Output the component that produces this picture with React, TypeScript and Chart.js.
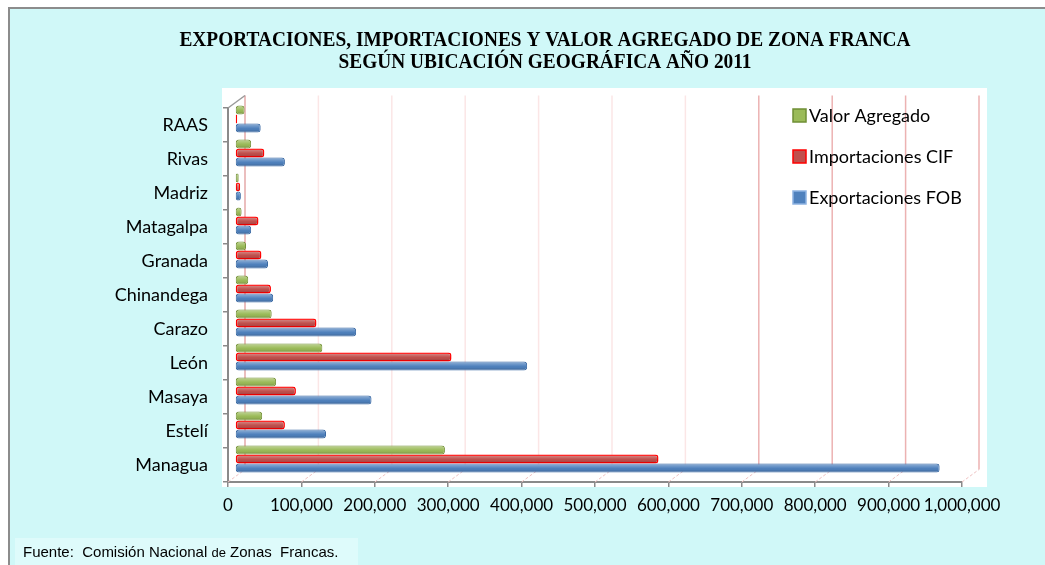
import React, { useEffect, useRef } from 'react';
import { Chart, registerables } from 'chart.js';

Chart.register(...registerables);

// ---------- data ----------
const TITLE_LINES = [
  'EXPORTACIONES, IMPORTACIONES Y VALOR AGREGADO DE ZONA FRANCA',
  'SEGÚN UBICACIÓN GEOGRÁFICA AÑO 2011',
];

const CATEGORIES = [
  'RAAS',
  'Rivas',
  'Madriz',
  'Matagalpa',
  'Granada',
  'Chinandega',
  'Carazo',
  'León',
  'Masaya',
  'Estelí',
  'Managua',
];

const SERIES_LABELS = ['Valor Agregado', 'Importaciones CIF', 'Exportaciones FOB'];

const VALOR_AGREGADO = [13000, 22000, 5000, 9000, 15000, 18000, 50000, 119000, 56000, 37000, 286000];
const IMPORTACIONES_CIF = [3000, 40000, 7000, 32000, 36000, 49000, 111000, 295000, 83000, 68000, 577000];
const EXPORTACIONES_FOB = [35000, 68000, 8000, 22000, 45000, 52000, 165000, 398000, 186000, 124000, 960000];

const X_TICKS = [0, 100000, 200000, 300000, 400000, 500000, 600000, 700000, 800000, 900000, 1000000];

const SOURCE_PARTS: [string, number][] = [
  ['Fuente:  Comisión Nacional ', 15],
  ['de', 13],
  [' Zonas  Francas.', 15],
];

// ---------- styles ----------
const FILLS = ['#9BBB59', '#C0504D', '#4F81BD'];
const BORDERS = ['#76923C', '#FF0000', '#3A69A3'];
const LEGEND_BORDERS = ['#6F8F35', '#FF0000', '#8DB3E2'];
const BG_CYAN = 'rgb(208,248,248)';
const FOOT_BOX = 'rgb(222,251,251)';
const LABEL_FONT = 'Lato, "Open Sans", sans-serif';
const DEPTH_DX = 17;
const DEPTH_DY = -12.5;
const BAR_DX = 7;
const BAR_DY = -6;

const decorPlugin = {
  id: 'decor3d',
  beforeDraw(chart: any) {
    const { ctx, chartArea: a } = chart;
    const W = chart.width;
    const H = chart.height;
    ctx.save();
    ctx.fillStyle = '#ffffff';
    ctx.fillRect(0, 0, W, H);
    ctx.fillStyle = BG_CYAN;
    ctx.fillRect(9, 8, W - 9, H - 8);
    ctx.strokeStyle = '#8C8C8C';
    ctx.lineWidth = 2;
    ctx.beginPath();
    ctx.moveTo(9, H);
    ctx.lineTo(9, 8);
    ctx.lineTo(W, 8);
    ctx.stroke();
    // plot area
    ctx.fillStyle = '#ffffff';
    ctx.fillRect(a.left - 6, a.top - 20, a.right - a.left + 31, a.bottom - a.top + 25);
    // footer box
    ctx.fillStyle = FOOT_BOX;
    ctx.fillRect(15, 538, 343, H - 538);
    // title (Times-like, slightly condensed)
    ctx.fillStyle = '#000';
    ctx.font = 'bold 22px "Liberation Serif", "Times New Roman", serif';
    ctx.textAlign = 'center';
    ctx.textBaseline = 'alphabetic';
    TITLE_LINES.forEach((line, i) => {
      ctx.save();
      ctx.translate(545, 46 + i * 22);
      ctx.scale(0.88, 1);
      ctx.fillText(line, 0, 0);
      ctx.restore();
    });
    ctx.restore();
  },
  beforeDatasetsDraw(chart: any) {
    const { ctx, chartArea: a, scales } = chart;
    const xs = scales.x;
    ctx.save();
    X_TICKS.forEach((v) => {
      const px = xs.getPixelForValue(v);
      ctx.setLineDash([]);
      ctx.lineWidth = 1.5;
      ctx.strokeStyle = v === 0 ? '#E4A8A8' : v >= 700000 ? '#ECB2B2' : '#FBE6E6';
      ctx.beginPath();
      ctx.moveTo(px + DEPTH_DX, a.top + DEPTH_DY);
      ctx.lineTo(px + DEPTH_DX, a.bottom + DEPTH_DY);
      ctx.stroke();
      ctx.setLineDash([3, 2]);
      ctx.lineWidth = 1;
      ctx.strokeStyle = '#EFC2C2';
      ctx.beginPath();
      ctx.moveTo(px, a.bottom);
      ctx.lineTo(px + DEPTH_DX, a.bottom + DEPTH_DY);
      ctx.stroke();
    });
    ctx.setLineDash([]);
    ctx.strokeStyle = '#9A9A9A';
    ctx.lineWidth = 1.5;
    ctx.beginPath();
    ctx.moveTo(a.left, a.top);
    ctx.lineTo(a.left + DEPTH_DX, a.top + DEPTH_DY);
    ctx.stroke();
    ctx.restore();
    ctx.save();
    ctx.translate(BAR_DX, BAR_DY);
  },
  afterDatasetsDraw(chart: any) {
    const { ctx } = chart;
    chart.data.datasets.forEach((_: any, di: number) => {
      const meta = chart.getDatasetMeta(di);
      meta.data.forEach((el: any) => {
        const p = el.getProps(['x', 'y', 'base', 'height'], true);
        const left = Math.min(p.base, p.x);
        const w = Math.abs(p.x - p.base);
        const top = p.y - p.height / 2;
        const g = ctx.createLinearGradient(0, top, 0, top + p.height);
        g.addColorStop(0, 'rgba(255,255,255,0.40)');
        g.addColorStop(0.45, 'rgba(255,255,255,0.06)');
        g.addColorStop(0.6, 'rgba(0,0,0,0)');
        g.addColorStop(1, 'rgba(0,0,0,0.22)');
        ctx.fillStyle = g;
        ctx.beginPath();
        if ((ctx as any).roundRect) {
          (ctx as any).roundRect(left + 1, top + 1, Math.max(w - 2, 0), p.height - 2, 3);
        } else {
          ctx.rect(left + 1, top + 1, Math.max(w - 2, 0), p.height - 2);
        }
        ctx.fill();
      });
    });
    ctx.restore();
  },
  afterDraw(chart: any) {
    const { ctx } = chart;
    ctx.save();
    // legend
    const LX = 793;
    const LY = 115.5;
    const GAP = 41;
    chart.data.datasets.forEach((ds: any, i: number) => {
      const cy = LY + i * GAP;
      ctx.fillStyle = FILLS[i];
      ctx.fillRect(LX, cy - 6.5, 13, 13);
      ctx.strokeStyle = LEGEND_BORDERS[i];
      ctx.lineWidth = 1.5;
      ctx.strokeRect(LX, cy - 6.5, 13, 13);
      ctx.fillStyle = '#000';
      ctx.font = `18px ${LABEL_FONT}`;
      ctx.textBaseline = 'middle';
      ctx.textAlign = 'left';
      ctx.fillText(ds.label, LX + 16, cy + 1);
    });
    // source
    let x = 23;
    ctx.textBaseline = 'alphabetic';
    ctx.fillStyle = '#000';
    SOURCE_PARTS.forEach(([t, size]) => {
      ctx.font = `${size}px "Liberation Sans", Arial, sans-serif`;
      ctx.fillText(t, x, 556.5);
      x += ctx.measureText(t).width;
    });
    ctx.restore();
  },
};

export default function App() {
  const ref = useRef<HTMLCanvasElement>(null);

  useEffect(() => {
    if (!ref.current) return;
    const seriesData = [VALOR_AGREGADO, IMPORTACIONES_CIF, EXPORTACIONES_FOB];
    const chart = new Chart(ref.current, {
      type: 'bar',
      data: {
        labels: CATEGORIES,
        datasets: SERIES_LABELS.map((label, i) => ({
          label,
          data: seriesData[i],
          backgroundColor: FILLS[i],
          borderColor: BORDERS[i],
          borderWidth: i === 1 ? 1.5 : 1,
          borderRadius: 3,
          borderSkipped: false,
          categoryPercentage: 0.8,
          barPercentage: 1,
          clip: false as any,
        })),
      },
      options: {
        indexAxis: 'y',
        animation: false,
        responsive: false,
        devicePixelRatio: 1,
        layout: { padding: { left: 0, right: 83, top: 108, bottom: 0 } },
        plugins: {
          legend: { display: false },
          tooltip: { enabled: false },
          title: { display: false },
        },
        scales: {
          y: {
            type: 'category',
            afterFit(s: any) {
              s.width = 228;
            },
            ticks: {
              color: '#000',
              font: { family: LABEL_FONT, size: 18 },
              padding: 15,
            },
            grid: {
              display: true,
              drawOnChartArea: false,
              drawTicks: true,
              tickLength: 5,
              color: '#8A8A8A',
              lineWidth: 1.5,
              offset: true,
            },
            border: { display: true, color: '#8A8A8A', width: 2 },
          },
          x: {
            type: 'linear',
            min: 0,
            max: 1000000,
            afterFit(s: any) {
              s.height = 83;
            },
            afterBuildTicks(s: any) {
              s.ticks = X_TICKS.map((v) => ({ value: v }));
            },
            ticks: {
              color: '#000',
              font: { family: LABEL_FONT, size: 17 },
              padding: 8,
              maxRotation: 0,
              autoSkip: false,
              callback: (v: any) => Number(v).toLocaleString('en-US'),
            },
            grid: {
              display: true,
              drawOnChartArea: false,
              drawTicks: true,
              tickLength: 5,
              color: '#8A8A8A',
              lineWidth: 1.5,
            },
            border: { display: true, color: '#8A8A8A', width: 2 },
          },
        },
      },
      plugins: [decorPlugin],
    } as any);
    return () => chart.destroy();
  }, []);

  return (
    <div style={{ position: 'absolute', left: 0, top: 0, width: 1045, height: 565 }}>
      <canvas ref={ref} width={1045} height={565} style={{ display: 'block', width: 1045, height: 565 }} />
    </div>
  );
}
